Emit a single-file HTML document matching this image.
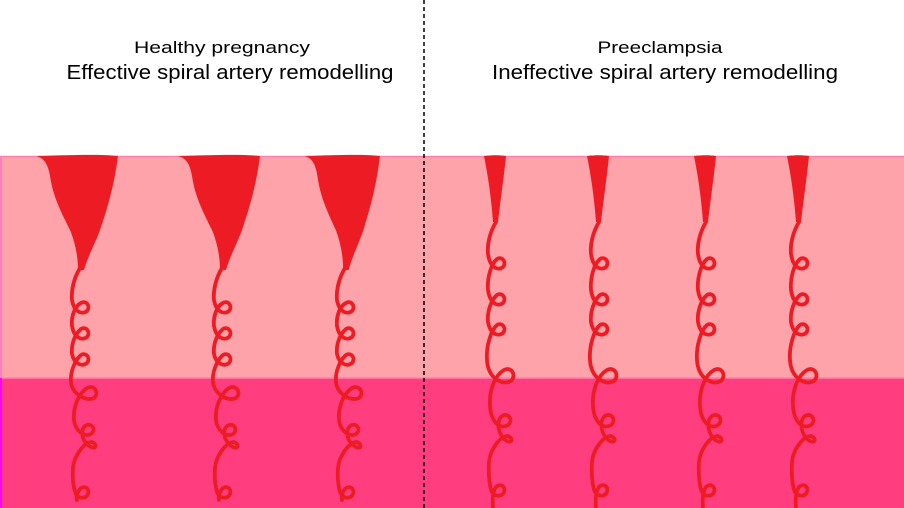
<!DOCTYPE html>
<html><head><style>html,body{margin:0;padding:0;background:#fff}svg{display:block}</style></head>
<body>
<svg width="904" height="508" viewBox="0 0 904 508" xmlns="http://www.w3.org/2000/svg">
<defs>
<g id="coilH" fill="none" stroke="#ED1C24" stroke-width="3.8" stroke-linecap="round">
  <path d="M0,0 C-6,10 -9,22 -8,32 C-6,44 2,47 7,43 C11,38 6,32 1,35 C-5,38 -9,48 -8,58 C-6,70 2,73 7,69 C11,64 6,58 1,61 C-5,66 -9,76 -8,86 C-6,96 2,99 7,95 C11,90 6,84 1,87 C-5,92 -10,104 -9,114 C-8,126 6,134 14,130 C20,125 14,116 7,120 C-2,126 -7,140 -6,152 C-5,162 4,170 11,166 C17,161 11,154 5,158 C1,162 1,170 7,176 C15,184 19,177 12,174 C4,174 -6,188 -7,200 C-8,212 -6,222 -4,226 C-1,231 6,231 8,226 C10,220 4,217 0,221 C-3,225 -4,228 -3,232"/>
</g>
<g id="coilP" fill="none" stroke="#ED1C24" stroke-width="3.8" stroke-linecap="round">
  <path d="M0,0 C-6,10 -9,22 -8,32 C-6,46 2,49 7,45 C11,40 6,34 1,37 C-5,42 -9,56 -8,68 C-6,82 2,85 7,81 C11,76 6,70 1,73 C-5,78 -9,90 -8,100 C-6,112 2,115 7,111 C11,106 6,100 1,103 C-5,108 -10,124 -9,138 C-8,156 6,164 15,159 C21,153 15,144 8,148 C-2,154 -7,170 -6,184 C-5,200 4,208 12,203 C18,198 12,190 6,194 C1,198 1,208 7,216 C15,224 19,217 12,214 C4,214 -6,228 -7,240 C-8,254 -6,266 -4,270 C-1,275 6,275 8,270 C10,264 4,261 0,265 C-3,269 -4,275 -3,286"/>
</g>
<path id="funH" d="M-44,0 C-36,2 -32,8 -30,20 C-27,40 -20,54 -10,74 C-5,86 -2,100 -2,114 L4,114 C8,100 14,90 20,74 C28,50 34,30 38,0 C20,-2 -10,-1 -44,0 Z" fill="#ED1C24"/>
<path id="funP" d="M-12,0 C-8,20 -5,40 -3,66 L2,66 C5,40 8,20 10,0 C4,-1 -4,-1 -12,0 Z" fill="#ED1C24"/>
</defs>
<rect x="0" y="156" width="904" height="222" fill="#FFA3AB"/>
<rect x="0" y="378" width="904" height="130" fill="#FF3D7F"/>
<line x1="0" y1="156.5" x2="904" y2="156.5" stroke="#FF80B0" stroke-width="1.5"/>
<line x1="0" y1="378" x2="904" y2="378" stroke="#FF80B0" stroke-width="1.5"/>
<rect x="0" y="156" width="2" height="222" fill="#FF7FBF"/>
<rect x="0" y="378" width="2" height="130" fill="#FF00FF"/>
<line x1="424" y1="0" x2="424" y2="508" stroke="#000" stroke-width="1.5" stroke-dasharray="4,3"/>

<use href="#funH" transform="translate(80,156)"/>
<use href="#funH" transform="translate(222,156)"/>
<use href="#funH" transform="translate(345,156) scale(0.92,1)"/>
<use href="#coilH" transform="translate(80,268)"/>
<use href="#coilH" transform="translate(222,268)"/>
<use href="#coilH" transform="translate(345,268)"/>

<use href="#funP" transform="translate(496,156)"/>
<use href="#funP" transform="translate(599,156)"/>
<use href="#funP" transform="translate(706,156)"/>
<use href="#funP" transform="translate(799,156)"/>
<use href="#coilP" transform="translate(496,222)"/>
<use href="#coilP" transform="translate(599,222)"/>
<use href="#coilP" transform="translate(706,222)"/>
<use href="#coilP" transform="translate(799,222)"/>

<g font-family="Liberation Sans, sans-serif" fill="#000" text-anchor="middle">
<text x="222" y="53" font-size="17" textLength="176" lengthAdjust="spacingAndGlyphs">Healthy pregnancy</text>
<text x="230" y="79" font-size="20" textLength="327" lengthAdjust="spacingAndGlyphs">Effective spiral artery remodelling</text>
<text x="660" y="53" font-size="17" textLength="125" lengthAdjust="spacingAndGlyphs">Preeclampsia</text>
<text x="665" y="79" font-size="20" textLength="346" lengthAdjust="spacingAndGlyphs">Ineffective spiral artery remodelling</text>
</g>
</svg>
</body></html>
